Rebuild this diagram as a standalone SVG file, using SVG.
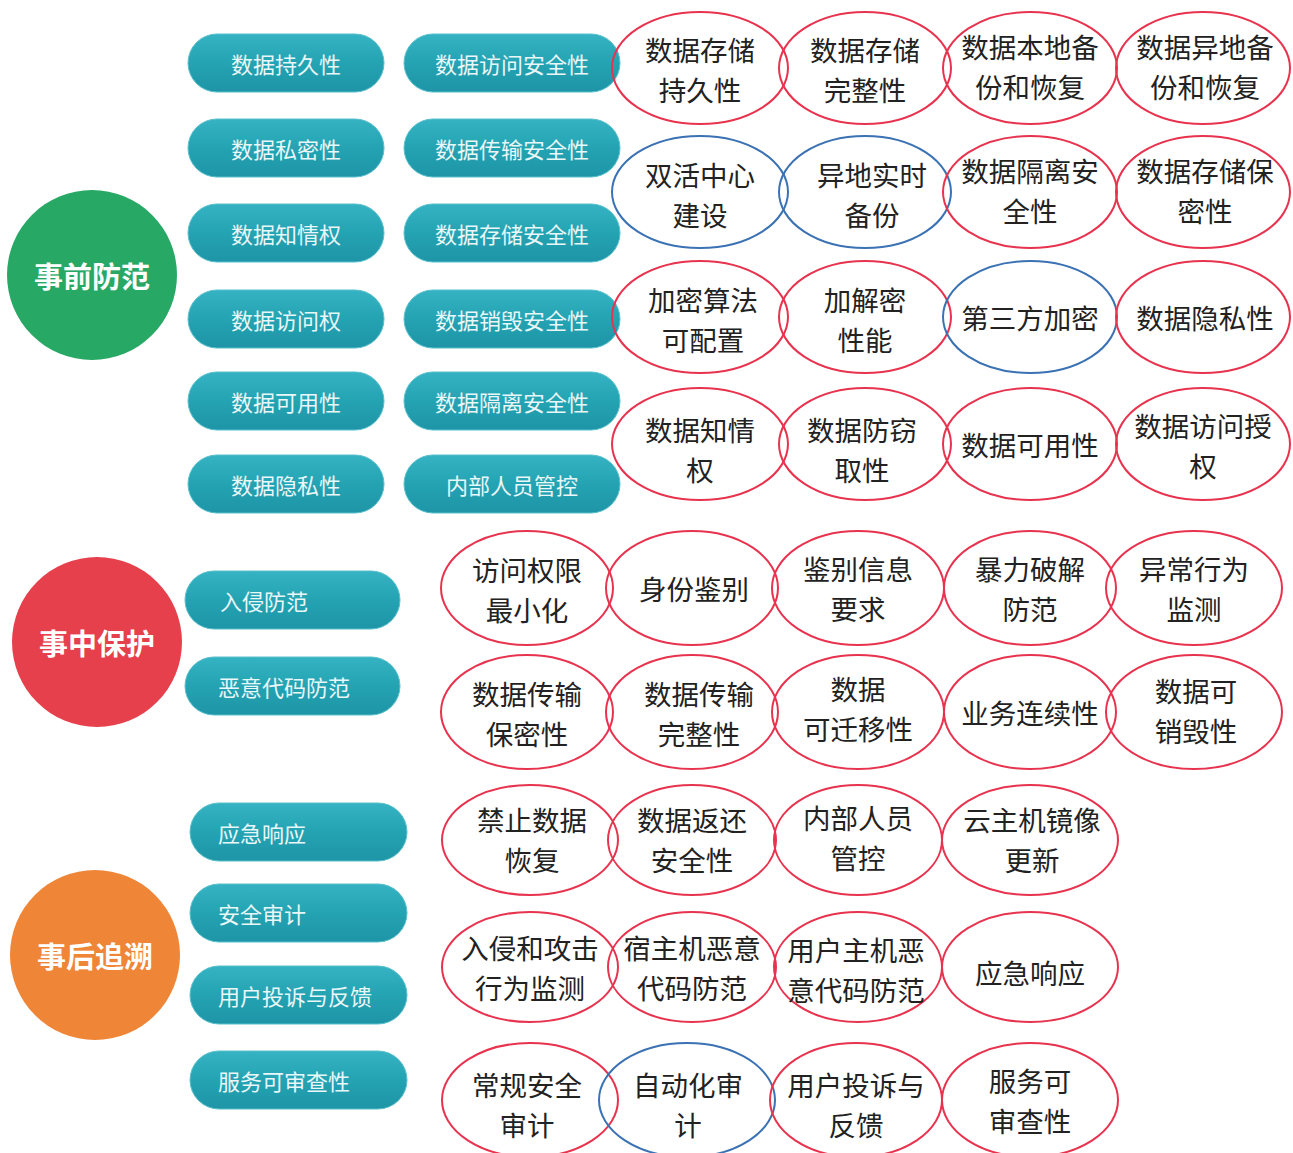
<svg xmlns="http://www.w3.org/2000/svg" width="1293" height="1153" viewBox="0 0 1293 1153">
<defs>
<linearGradient id="pillg" x1="0" y1="0" x2="0" y2="1">
<stop offset="0" stop-color="#35b3c2"/>
<stop offset="0.5" stop-color="#24a3b3"/>
<stop offset="1" stop-color="#1e95a6"/>
</linearGradient>
</defs>
<style>
text{font-family:"Noto Sans CJK SC","Noto Sans",sans-serif;dominant-baseline:central;text-anchor:middle}
.big{font-size:29px;font-weight:bold;fill:#ffffff}
.pill{fill:url(#pillg);stroke:#58bfcc;stroke-width:1}
.pt{font-size:22px;fill:#e9f7f9}
.ptl{font-size:22px;fill:#e9f7f9;text-anchor:start}
.er{fill:none;stroke:#e8334f;stroke-width:2}
.eb{fill:none;stroke:#3b72b3;stroke-width:2}
.t{font-size:27.5px;fill:#222222}
</style>
<rect width="1293" height="1153" fill="#ffffff"/>
<g id="connectors"/>

<g id="c-before"><circle cx="92" cy="275" r="85" fill="#28a865"/><text class="big" x="92" y="275">事前防范</text></g>
<g id="c-during"><circle cx="97" cy="642" r="85" fill="#e6404c"/><text class="big" x="97" y="642">事中保护</text></g>
<g id="c-after"><circle cx="95" cy="955" r="85" fill="#ef8537"/><text class="big" x="95" y="955">事后追溯</text></g>

<g id="p1"><rect class="pill" x="188" y="34" width="196" height="58" rx="29"/><text class="pt" x="286" y="63">数据持久性</text></g>
<g id="p2"><rect class="pill" x="188" y="119" width="196" height="58" rx="29"/><text class="pt" x="286" y="148">数据私密性</text></g>
<g id="p3"><rect class="pill" x="188" y="204" width="196" height="58" rx="29"/><text class="pt" x="286" y="233">数据知情权</text></g>
<g id="p4"><rect class="pill" x="188" y="290" width="196" height="58" rx="29"/><text class="pt" x="286" y="319">数据访问权</text></g>
<g id="p5"><rect class="pill" x="188" y="372" width="196" height="58" rx="29"/><text class="pt" x="286" y="401">数据可用性</text></g>
<g id="p6"><rect class="pill" x="188" y="455" width="196" height="58" rx="29"/><text class="pt" x="286" y="484">数据隐私性</text></g>

<g id="q1"><rect class="pill" x="404" y="34" width="216" height="58" rx="29"/><text class="pt" x="512" y="63">数据访问安全性</text></g>
<g id="q2"><rect class="pill" x="404" y="119" width="216" height="58" rx="29"/><text class="pt" x="512" y="148">数据传输安全性</text></g>
<g id="q3"><rect class="pill" x="404" y="204" width="216" height="58" rx="29"/><text class="pt" x="512" y="233">数据存储安全性</text></g>
<g id="q4"><rect class="pill" x="404" y="290" width="216" height="58" rx="29"/><text class="pt" x="512" y="319">数据销毁安全性</text></g>
<g id="q5"><rect class="pill" x="404" y="372" width="216" height="58" rx="29"/><text class="pt" x="512" y="401">数据隔离安全性</text></g>
<g id="q6"><rect class="pill" x="404" y="455" width="216" height="58" rx="29"/><text class="pt" x="512" y="484">内部人员管控</text></g>

<g id="m1"><rect class="pill" x="185" y="571" width="215" height="58" rx="29"/><text class="ptl" x="220" y="600">入侵防范</text></g>
<g id="m2"><rect class="pill" x="185" y="657" width="215" height="58" rx="29"/><text class="ptl" x="218" y="686">恶意代码防范</text></g>

<g id="a1"><rect class="pill" x="190" y="803" width="217" height="58" rx="29"/><text class="ptl" x="218" y="832">应急响应</text></g>
<g id="a2"><rect class="pill" x="190" y="884" width="217" height="58" rx="29"/><text class="ptl" x="218" y="913">安全审计</text></g>
<g id="a3"><rect class="pill" x="190" y="966" width="217" height="58" rx="29"/><text class="ptl" x="218" y="995">用户投诉与反馈</text></g>
<g id="a4"><rect class="pill" x="190" y="1051" width="217" height="58" rx="29"/><text class="ptl" x="218" y="1080">服务可审查性</text></g>

<!-- top section -->
<g id="e11"><ellipse class="er" cx="700" cy="68" rx="88" ry="56"/><text class="t" x="700" y="49">数据存储<tspan x="700" dy="40">持久性</tspan></text></g>
<g id="e12"><ellipse class="er" cx="865" cy="68" rx="86" ry="56"/><text class="t" x="865" y="49">数据存储<tspan x="865" dy="40">完整性</tspan></text></g>
<g id="e13"><ellipse class="er" cx="1030" cy="68" rx="87" ry="56"/><text class="t" x="1030" y="46">数据本地备<tspan x="1030" dy="40">份和恢复</tspan></text></g>
<g id="e14"><ellipse class="er" cx="1203" cy="68" rx="87" ry="56"/><text class="t" x="1205" y="46">数据异地备<tspan x="1205" dy="40">份和恢复</tspan></text></g>

<g id="e21"><ellipse class="eb" cx="700" cy="192" rx="88" ry="56"/><text class="t" x="700" y="174">双活中心<tspan x="700" dy="40">建设</tspan></text></g>
<g id="e22"><ellipse class="eb" cx="865" cy="192" rx="86" ry="56"/><text class="t" x="872" y="174">异地实时<tspan x="872" dy="40">备份</tspan></text></g>
<g id="e23"><ellipse class="er" cx="1030" cy="192" rx="87" ry="56"/><text class="t" x="1030" y="170">数据隔离安<tspan x="1030" dy="40">全性</tspan></text></g>
<g id="e24"><ellipse class="er" cx="1203" cy="192" rx="87" ry="56"/><text class="t" x="1205" y="170">数据存储保<tspan x="1205" dy="40">密性</tspan></text></g>

<g id="e31"><ellipse class="er" cx="700" cy="317" rx="88" ry="56"/><text class="t" x="703" y="299">加密算法<tspan x="703" dy="40">可配置</tspan></text></g>
<g id="e32"><ellipse class="er" cx="865" cy="317" rx="86" ry="56"/><text class="t" x="865" y="299">加解密<tspan x="865" dy="40">性能</tspan></text></g>
<g id="e33"><ellipse class="eb" cx="1030" cy="317" rx="87" ry="56"/><text class="t" x="1030" y="317">第三方加密</text></g>
<g id="e34"><ellipse class="er" cx="1203" cy="317" rx="87" ry="56"/><text class="t" x="1205" y="317">数据隐私性</text></g>

<g id="e41"><ellipse class="er" cx="700" cy="444" rx="88" ry="56"/><text class="t" x="700" y="429">数据知情<tspan x="700" dy="40">权</tspan></text></g>
<g id="e42"><ellipse class="er" cx="865" cy="444" rx="86" ry="56"/><text class="t" x="862" y="429">数据防窃<tspan x="862" dy="40">取性</tspan></text></g>
<g id="e43"><ellipse class="er" cx="1030" cy="444" rx="87" ry="56"/><text class="t" x="1030" y="444">数据可用性</text></g>
<g id="e44"><ellipse class="er" cx="1203" cy="444" rx="87" ry="56"/><text class="t" x="1203" y="425">数据访问授<tspan x="1203" dy="40">权</tspan></text></g>

<!-- middle section -->
<g id="f11"><ellipse class="er" cx="527" cy="588" rx="86" ry="57"/><text class="t" x="527" y="569">访问权限<tspan x="527" dy="40">最小化</tspan></text></g>
<g id="f12"><ellipse class="er" cx="692" cy="588" rx="86" ry="57"/><text class="t" x="694" y="588">身份鉴别</text></g>
<g id="f13"><ellipse class="er" cx="858" cy="588" rx="86" ry="57"/><text class="t" x="858" y="568">鉴别信息<tspan x="858" dy="40">要求</tspan></text></g>
<g id="f14"><ellipse class="er" cx="1030" cy="588" rx="86" ry="57"/><text class="t" x="1030" y="568">暴力破解<tspan x="1030" dy="40">防范</tspan></text></g>
<g id="f15"><ellipse class="er" cx="1194" cy="588" rx="88" ry="57"/><text class="t" x="1194" y="568">异常行为<tspan x="1194" dy="40">监测</tspan></text></g>

<g id="f21"><ellipse class="er" cx="527" cy="712" rx="86" ry="57"/><text class="t" x="527" y="693">数据传输<tspan x="527" dy="40">保密性</tspan></text></g>
<g id="f22"><ellipse class="er" cx="692" cy="712" rx="86" ry="57"/><text class="t" x="699" y="693">数据传输<tspan x="699" dy="40">完整性</tspan></text></g>
<g id="f23"><ellipse class="er" cx="858" cy="712" rx="86" ry="57"/><text class="t" x="858" y="688">数据<tspan x="858" dy="40">可迁移性</tspan></text></g>
<g id="f24"><ellipse class="er" cx="1030" cy="712" rx="86" ry="57"/><text class="t" x="1030" y="712">业务连续性</text></g>
<g id="f25"><ellipse class="er" cx="1194" cy="712" rx="88" ry="57"/><text class="t" x="1196" y="690">数据可<tspan x="1196" dy="40">销毁性</tspan></text></g>

<!-- bottom section -->
<g id="g11"><ellipse class="er" cx="530" cy="840" rx="88" ry="55"/><text class="t" x="532" y="819">禁止数据<tspan x="532" dy="40">恢复</tspan></text></g>
<g id="g12"><ellipse class="er" cx="692" cy="840" rx="84" ry="55"/><text class="t" x="692" y="819">数据返还<tspan x="692" dy="40">安全性</tspan></text></g>
<g id="g13"><ellipse class="er" cx="858" cy="840" rx="84" ry="55"/><text class="t" x="858" y="817">内部人员<tspan x="858" dy="40">管控</tspan></text></g>
<g id="g14"><ellipse class="er" cx="1030" cy="840" rx="88" ry="55"/><text class="t" x="1032" y="819">云主机镜像<tspan x="1032" dy="40">更新</tspan></text></g>

<g id="g21"><ellipse class="er" cx="530" cy="967" rx="88" ry="55"/><text class="t" x="530" y="947">入侵和攻击<tspan x="530" dy="40">行为监测</tspan></text></g>
<g id="g22"><ellipse class="er" cx="692" cy="967" rx="84" ry="55"/><text class="t" x="692" y="947">宿主机恶意<tspan x="692" dy="40">代码防范</tspan></text></g>
<g id="g23"><ellipse class="er" cx="858" cy="967" rx="84" ry="55"/><text class="t" x="856" y="949">用户主机恶<tspan x="856" dy="40">意代码防范</tspan></text></g>
<g id="g24"><ellipse class="er" cx="1030" cy="967" rx="88" ry="55"/><text class="t" x="1030" y="972">应急响应</text></g>

<g id="g31"><ellipse class="er" cx="530" cy="1100" rx="88" ry="57"/><text class="t" x="527" y="1084">常规安全<tspan x="527" dy="40">审计</tspan></text></g>
<g id="g32"><ellipse class="eb" cx="687" cy="1100" rx="88" ry="57"/><text class="t" x="688" y="1084">自动化审<tspan x="688" dy="40">计</tspan></text></g>
<g id="g33"><ellipse class="er" cx="856" cy="1100" rx="86" ry="57"/><text class="t" x="856" y="1084">用户投诉与<tspan x="856" dy="40">反馈</tspan></text></g>
<g id="g34"><ellipse class="er" cx="1030" cy="1100" rx="88" ry="57"/><text class="t" x="1030" y="1080">服务可<tspan x="1030" dy="40">审查性</tspan></text></g>
</svg>
